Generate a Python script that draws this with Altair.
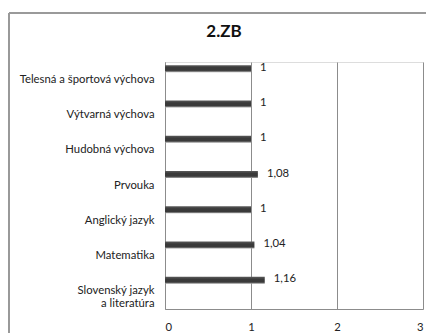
import altair as alt
import pandas as pd

chart_title = "2.ZB"
subjects = [
    "Telesná a športová výchova",
    "Výtvarná výchova",
    "Hudobná výchova",
    "Prvouka",
    "Anglický jazyk",
    "Matematika",
    "Slovenský jazyk a literatúra",
]
values = [1, 1, 1, 1.08, 1, 1.04, 1.16]
value_labels = ["1", "1", "1", "1,08", "1", "1,04", "1,16"]
x_ticks = [0, 1, 2, 3]

df = pd.DataFrame({"subject": subjects, "value": values, "label": value_labels})
title_df = pd.DataFrame({"t": [chart_title]})

FONT = "Lato"

y_enc = alt.Y(
    "subject:N",
    sort=subjects,
    scale=alt.Scale(paddingInner=0, paddingOuter=0),
    axis=alt.Axis(
        title=None,
        ticks=False,
        domain=True,
        domainColor="#8c8c8c",
        labelPadding=11,
        labelFontSize=11.3,
        labelFont=FONT,
        labelColor="#222222",
        labelExpr="datum.label == 'Slovenský jazyk a literatúra' ? ['Slovenský jazyk', 'a literatúra\u00a0\u00a0\u00a0'] : datum.label",
        labelLineHeight=13,
    ),
)

x_enc = alt.X(
    "value:Q",
    scale=alt.Scale(domain=[0, 3], nice=False),
    axis=alt.Axis(
        title=None,
        values=x_ticks,
        format="d",
        ticks=False,
        grid=True,
        gridColor="#8c8c8c",
        domainColor="#8c8c8c",
        labelPadding=12,
        labelFontSize=11.3,
        labelFont=FONT,
        labelColor="#222222",
    ),
)

bars = alt.Chart(df).mark_bar(
    size=7,
    yOffset=-11,
    color=alt.Gradient(
        gradient="linear",
        x1=0, x2=0, y1=0, y2=1,
        stops=[
            alt.GradientStop(color="#5a5a5a", offset=0),
            alt.GradientStop(color="#3a3a3a", offset=0.35),
            alt.GradientStop(color="#3a3a3a", offset=0.75),
            alt.GradientStop(color="#a8a8a8", offset=1),
        ],
    ),
).encode(x=x_enc, y=y_enc)

labels = alt.Chart(df).mark_text(
    align="left", baseline="middle", dx=9, yOffset=-12,
    font=FONT, fontSize=11.3, color="#222222",
).encode(x="value:Q", y=alt.Y("subject:N", sort=subjects), text="label:N")

frame_left = alt.Chart(df).mark_rule(color="#9a9a9a", strokeWidth=1.2).encode(
    x=alt.value(-156), y=alt.value(-49), y2=alt.value(300)
)
frame_top = alt.Chart(df).mark_rule(color="#9a9a9a", strokeWidth=1.2).encode(
    x=alt.value(-156), x2=alt.value(300), y=alt.value(-49)
)

title_text = alt.Chart(title_df).mark_text(
    align="center", baseline="middle", font=FONT, fontSize=17,
    fontWeight="bold", color="#111111",
).encode(x=alt.value(59), y=alt.value(-30), text="t:N")

chart = alt.layer(bars, labels, frame_left, frame_top, title_text).properties(
    width=258,
    height=247,
    autosize=alt.AutoSizeParams(type="none"),
    padding={"left": 157, "top": 54, "right": 3, "bottom": 24},
).configure_view(stroke=None).configure(background="white")

chart.save("out.html", embed_options={"renderer": "svg", "actions": False})
